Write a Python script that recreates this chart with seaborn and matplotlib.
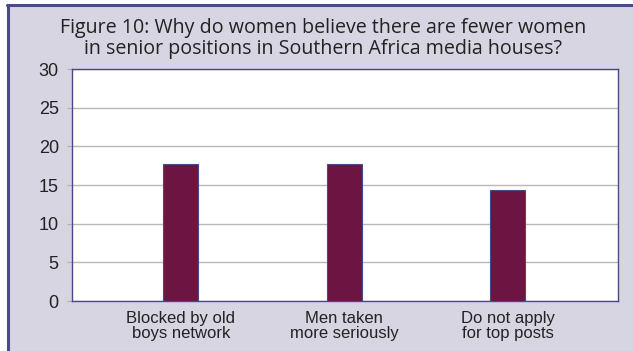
import matplotlib
matplotlib.use("Agg")
import matplotlib.pyplot as plt
import seaborn as sns
import pandas as pd
from matplotlib.patches import Rectangle
from matplotlib.lines import Line2D

categories = ["Blocked by old\nboys network", "Men taken\nmore seriously", "Do not apply\nfor top posts"]
values = [17.7, 17.7, 14.3]
y_ticks = [0, 5, 10, 15, 20, 25, 30]

title = "Figure 10: Why do women believe there are fewer women\nin senior positions in Southern Africa media houses?"

panel_bg = "#d7d5e2"
frame_col = "#4b4b84"
bar_col = "#6c1542"

sns.set_theme(style="white")
plt.rcParams["font.family"] = ["Liberation Sans", "DejaVu Sans"]

fig = plt.figure(figsize=(6.33, 3.51), dpi=100)
fig.patch.set_facecolor("white")

# shaded panel with a dark rule along its top and left edges
fig.patches.append(Rectangle((7 / 633, 0), 1 - 7 / 633, 1 - 5 / 351,
                             transform=fig.transFigure, facecolor=panel_bg,
                             edgecolor="none", zorder=-10))
fig.lines.append(Line2D([8 / 633, 8 / 633], [0, 1 - 5 / 351], transform=fig.transFigure,
                        color=frame_col, lw=2.2, zorder=-5))
fig.lines.append(Line2D([7 / 633, 1], [1 - 5 / 351, 1 - 5 / 351], transform=fig.transFigure,
                        color=frame_col, lw=2.2, zorder=-5))

ax = fig.add_axes([72 / 633, 50 / 351, 546 / 633, 232 / 351])
ax.set_zorder(5)
ax.set_facecolor("white")

df = pd.DataFrame({"reason": categories, "share": values})
sns.barplot(data=df, x="reason", y="share", ax=ax, color=bar_col, width=0.214,
            saturation=1, edgecolor=frame_col, linewidth=0.8, zorder=3)

ax.set_xlim(-0.665, 2.674)
ax.set_ylim(0, 30)
ax.set_yticks(y_ticks)
ax.set_yticklabels([str(v) for v in y_ticks], fontsize=13, color="#222222")
ax.yaxis.grid(True, color="#b8b8b8", lw=1.0, zorder=0)
ax.set_axisbelow(True)
ax.tick_params(axis="y", left=True, length=3.5, width=0.8, color="#b0b0b0", pad=6)
ax.tick_params(axis="x", bottom=False, pad=1.5)
for lbl in ax.get_xticklabels():
    lbl.set_fontsize(12)
    lbl.set_color("#222222")
    lbl.set_linespacing(0.95)
ax.set_xlabel("")
ax.set_ylabel("")
for side in ["left", "right", "top", "bottom"]:
    ax.spines[side].set_visible(True)
    ax.spines[side].set_color(frame_col)
    ax.spines[side].set_linewidth(1.0)

fig.text(323 / 633, 1 - 38.5 / 351, title, ha="center", va="center",
         fontsize=14.1, family=["Open Sans", "DejaVu Sans"], color="#222222",
         linespacing=1.08, zorder=6)

fig.savefig("out.png", dpi=100)
